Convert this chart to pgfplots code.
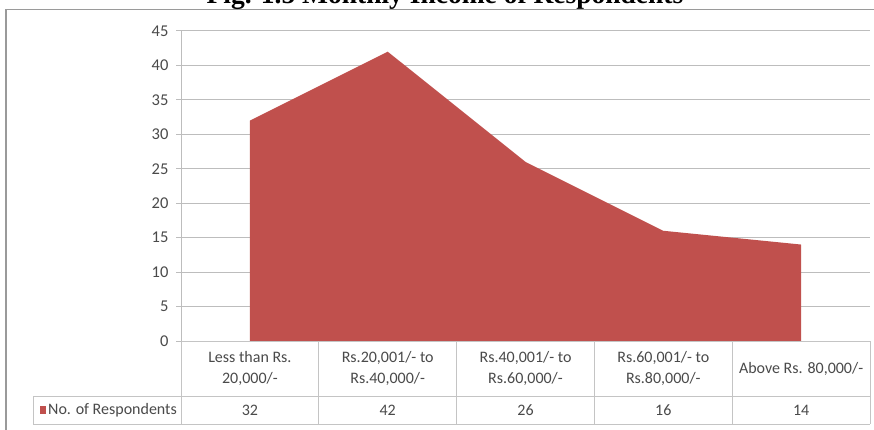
\documentclass[border=0pt]{standalone}
\usepackage{pgfplots}
\pgfplotsset{compat=1.18}
\usepackage{fontspec}
\setmainfont{Carlito}
\newfontfamily\titlefont{Liberation Serif}

\definecolor{areared}{HTML}{C0504D}
\definecolor{gridgray}{HTML}{BDBDBD}
\definecolor{labelgray}{HTML}{4A4A4A}
\definecolor{tablegray}{HTML}{C4C4C4}
\definecolor{framegray}{HTML}{9A9A9A}

\begin{document}
\begin{tikzpicture}[x=1pt,y=1pt]
\useasboundingbox (0,0) rectangle (874,429);
\clip (0,0) rectangle (874,429);
\fill[white] (0,0) rectangle (874,429);

% chart frame
\draw[framegray, line width=1.4pt] (6,-5) -- (6,419.5) -- (880,419.5);

% title
\node[anchor=base, inner sep=0pt,
      font=\titlefont\bfseries\fontsize{27.5}{30}\selectfont]
  at (445,425) {Fig. 1.5 Monthly Income of Respondents};

\begin{axis}[
  at={(181pt,88pt)}, anchor=south west,
  scale only axis, width=689pt, height=310pt,
  xmin=-0.5, xmax=4.5, ymin=0, ymax=45,
  ytick={0,5,...,45}, xtick=\empty,
  axis x line=none, axis y line*=left,
  ymajorgrids,
  grid style={gridgray, line width=1pt},
  y axis line style={gridgray, line width=1pt, -},
  major tick length=5pt, tick align=outside,
  tick style={gridgray, line width=1pt},
  yticklabel style={font=\fontsize{16.5}{16.5}\selectfont, text=labelgray,
    /pgf/number format/assume math mode=true, xshift=-4pt},
  clip=false,
]
\addplot[fill=areared, draw=none]
  coordinates {(0,32) (1,42) (2,26) (3,16) (4,14)} \closedcycle;
\end{axis}

% data table below the plot
\begin{scope}[tablegray, line width=1pt]
  \draw (181,88) -- (870,88);
  \draw (33,33) -- (870,33);
  \draw (33,5) -- (870,5);
  \draw (33,33) -- (33,5);
  \foreach \bx in {181,318.8,456.6,594.4,732.2,870}
    \draw (\bx,88) -- (\bx,5);
\end{scope}

\begin{scope}[every node/.style={text=labelgray, align=center,
    font=\fontsize{16}{20.5}\selectfont}]
  \node at (249.9,60.5) {Less than Rs.\\20,000/-};
  \node at (387.7,60.5) {Rs.20,001/- to\\Rs.40,000/-};
  \node at (525.5,60.5) {Rs.40,001/- to\\Rs.60,000/-};
  \node at (663.3,60.5) {Rs.60,001/- to\\Rs.80,000/-};
  \node at (801.1,60.5) {Above Rs. 80,000/-};

  \node at (249.9,19) {32};
  \node at (387.7,19) {42};
  \node at (525.5,19) {26};
  \node at (663.3,19) {16};
  \node at (801.1,19) {14};
\end{scope}

\fill[areared] (40,15.5) rectangle (46,23.5);
\node[anchor=west, text=labelgray, font=\fontsize{16}{20}\selectfont, inner sep=0pt]
  at (48,19) {No. of Respondents};

\end{tikzpicture}
\end{document}
